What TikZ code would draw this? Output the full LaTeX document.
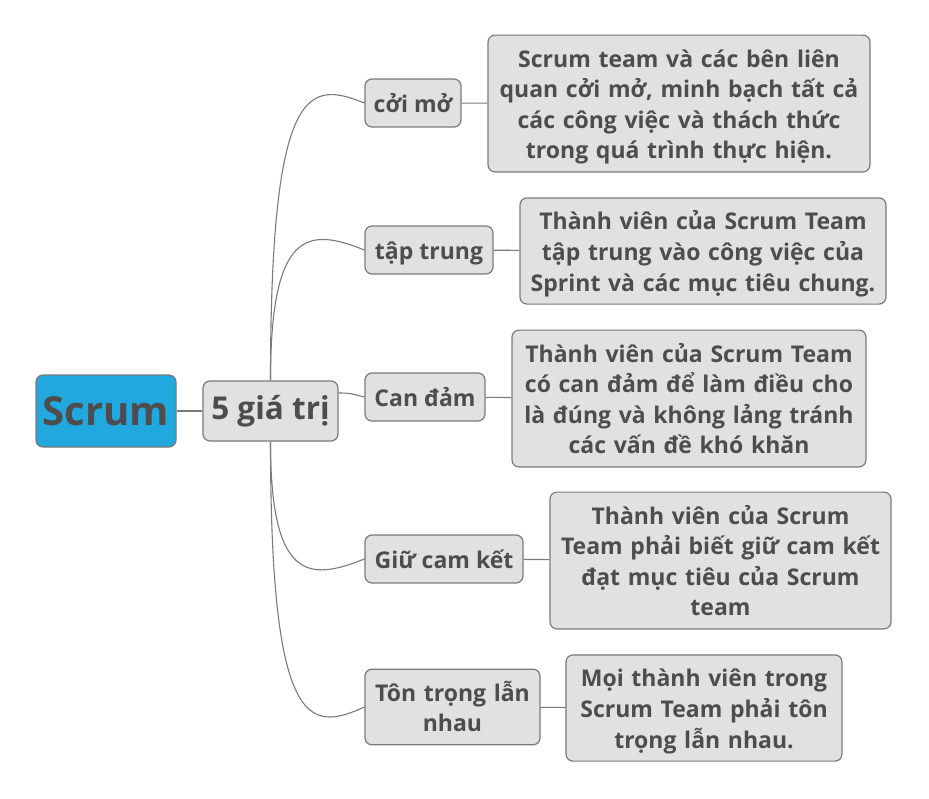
\documentclass[tikz,border=0pt]{standalone}
\usepackage{fontspec}
\setmainfont{Open Sans}
\usetikzlibrary{positioning}
\definecolor{ink}{HTML}{4D4D4D}
\definecolor{edge}{HTML}{7A7A7A}
\definecolor{boxfill}{HTML}{E1E1E1}
\definecolor{rootfill}{HTML}{21A8DF}

\begin{document}
\begin{tikzpicture}[x=1pt,y=-1pt,
  box/.style={draw=edge,line width=1.2pt,fill=boxfill,rounded corners=7pt,
    text=ink,font=\bfseries\fontsize{23}{30.6}\selectfont,align=center,inner sep=0pt},
  lines/.style={box,execute at begin node={\rule{0pt}{32pt}},
    execute at end node={\rule[-13pt]{0pt}{13pt}}},
  topic/.style={lines,minimum height=48pt},
  note/.style={lines},
  link/.style={draw=edge,line width=1.1pt}]
 \useasboundingbox (0,0) rectangle (929,798);
 % centre and main branch
 \node[box,fill=rootfill,minimum width=140pt,minimum height=72pt,
   font=\bfseries\fontsize{40}{48}\selectfont] (scrum) at (106,411) {Scrum};
 \node[box,minimum width=135pt,minimum height=60pt,
   font=\bfseries\fontsize{31.5}{36}\selectfont] (values) at (270.5,411) {5 giá trị};
 % the five values
 \node[topic,minimum width=96pt] (open) at (413,103) {cởi mở};
 \node[topic,minimum width=128pt] (focus) at (429,250) {tập trung};
 \node[topic,minimum width=120pt] (courage) at (425,397) {Can đảm};
 \node[topic,minimum width=158pt] (commit) at (444,559) {Giữ cam kết};
 \node[topic,text width=175pt,minimum height=74pt] (respect) at (452.5,707) {Tôn trọng lẫn\\nhau};
 % explanations
 \node[note,text width=382pt,minimum height=135pt] (openx) at (679,103.5)
   {Scrum team và các bên liên\\quan cởi mở, minh bạch tất cả\\các công việc và thách thức\\trong quá trình thực hiện.};
 \node[note,text width=366pt,minimum height=104pt] (focusx) at (703,251)
   {Thành viên của Scrum Team\\tập trung vào công việc của\\Sprint và các mục tiêu chung.};
 \node[note,text width=354pt,minimum height=135pt] (couragex) at (689,398.5)
   {Thành viên của Scrum Team\\có can đảm để làm điều cho\\là đúng và không lảng tránh\\các vấn đề khó khăn};
 \node[note,text width=341pt,minimum height=135pt] (commitx) at (720.5,560.5)
   {Thành viên của Scrum\\Team phải biết giữ cam kết\\đạt mục tiêu của Scrum\\team};
 \node[note,text width=276pt,minimum height=104pt] (respectx) at (704,708)
   {Mọi thành viên trong\\Scrum Team phải tôn\\trọng lẫn nhau.};
 % connectors
 \draw[link] (scrum) -- (values);
 \draw[link] (values.north) .. controls +(0,-300) and +(-55,-22) .. (open.west);
 \draw[link] (values.north) .. controls +(0,-153) and +(-55,-22) .. (focus.west);
 \draw[link] ([yshift=18pt]values.east) .. controls +(12,0) and +(-12,-3) .. (courage.west);
 \draw[link] (values.south) .. controls +(0,140) and +(-55,22) .. (commit.west);
 \draw[link] (values.south) .. controls +(0,290) and +(-55,25) .. (respect.west);
 \draw[link] (open) -- (openx);
 \draw[link] (focus) -- (focusx);
 \draw[link] (courage) -- (couragex);
 \draw[link] (commit) -- (commitx);
 \draw[link] (respect) -- (respectx);
\end{tikzpicture}
\end{document}
